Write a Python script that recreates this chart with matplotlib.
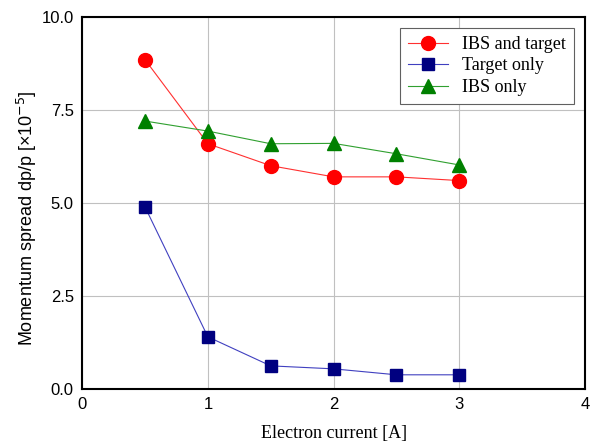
import matplotlib.pyplot as plt

# data
current = [0.5, 1.0, 1.5, 2.0, 2.5, 3.0]
ibs_target = [8.85, 6.59, 6.0, 5.7, 5.7, 5.6]
target_only = [4.89, 1.4, 0.62, 0.54, 0.38, 0.38]
ibs_only = [7.2, 6.93, 6.59, 6.6, 6.32, 6.02]

fig = plt.figure(figsize=(5.91, 4.44), dpi=100)
ax = fig.add_axes([0.139, 0.124, 0.851, 0.838])

ax.plot(current, ibs_target, color='#ff3030', lw=0.8, marker='o', ms=10,
        mfc='#ff0000', mec='#ff0000', label='IBS and target')
ax.plot(current, target_only, color='#4040c0', lw=0.8, marker='s', ms=9,
        mfc='#000080', mec='#000080', label='Target only')
ax.plot(current, ibs_only, color='#30a030', lw=0.8, marker='^', ms=10,
        mfc='#008000', mec='#008000', label='IBS only')

ax.set_xlim(0, 4)
ax.set_ylim(0, 10)
ax.set_xticks([0, 1, 2, 3, 4])
ax.set_yticks([0, 2.5, 5, 7.5, 10])
ax.set_yticklabels(['0.0', '2.5', '5.0', '7.5', '10.0'])
ax.tick_params(length=0, labelsize=12, pad=6)
for lab in ax.get_xticklabels() + ax.get_yticklabels():
    lab.set_family('Liberation Sans')

ax.grid(True, color='#c0c0c0', lw=0.8)
ax.set_axisbelow(True)
for sp in ax.spines.values():
    sp.set_linewidth(1.5)

ax.set_xlabel('Electron current [A]', family='Liberation Serif', fontsize=13, labelpad=9)
ax.set_ylabel('Momentum spread dp/p [×10$^{-5}$]', family='Liberation Sans', fontsize=13, labelpad=6)
ax.yaxis.set_label_coords(-0.085, 0.46)

leg = ax.legend(loc='upper right', prop={'family': 'Liberation Serif', 'size': 13},
                fancybox=False, edgecolor='#606060', framealpha=1,
                handlelength=2.2, borderaxespad=0.6, labelspacing=0.25,
                borderpad=0.45)
leg.get_frame().set_linewidth(0.8)

fig.savefig('out.png', dpi=100)
